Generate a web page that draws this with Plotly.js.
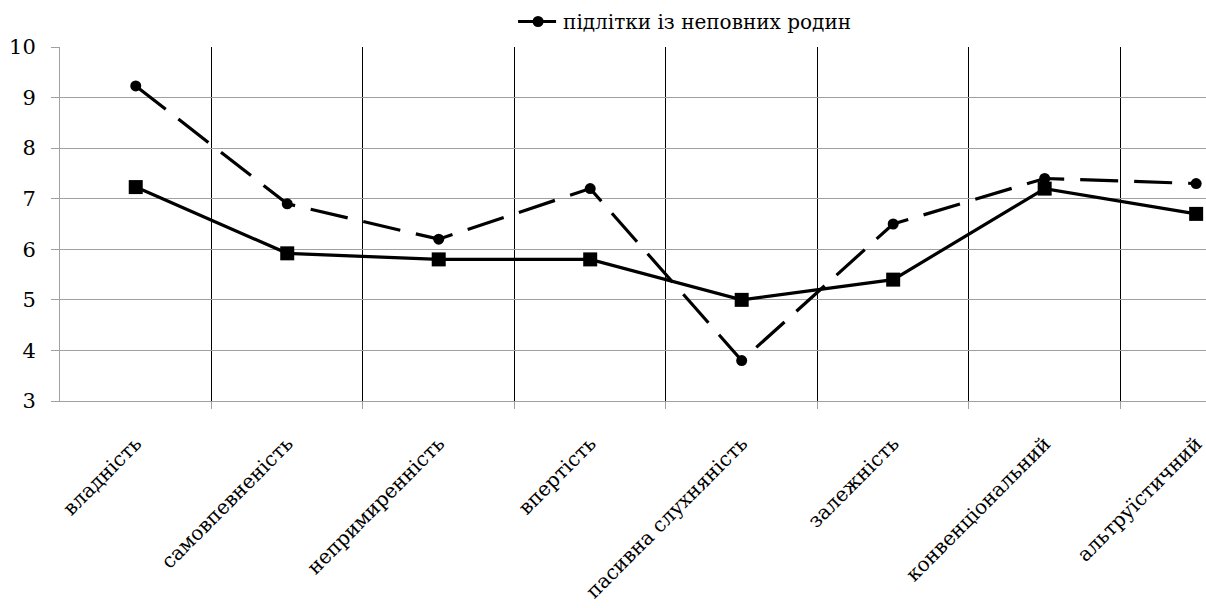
<!DOCTYPE html>
<html>
<head>
<meta charset="utf-8">
<script src="https://cdn.plot.ly/plotly-3.0.1.min.js"></script>
<style>html,body{margin:0;padding:0;background:#fff;}#chart{width:1206px;height:608px;}</style>
</head>
<body>
<div id="chart"></div>
<script>
const categories = ["владність", "самовпевненість", "непримиренність", "впертість", "пасивна слухняність", "залежність", "конвенціональний", "альтруїстичний"];
const seriesIncomplete = [9.23, 6.9, 6.2, 7.2, 3.8, 6.5, 7.4, 7.3];
const seriesOther = [7.23, 5.92, 5.8, 5.8, 5.0, 5.4, 7.2, 6.7];
const legendName = "підлітки із неповних родин";
const yTicks = [3, 4, 5, 6, 7, 8, 9, 10];

const xIdx = categories.map((_, i) => i);
const boundaries = categories.slice(1).map((_, i) => i + 0.5);
const font = "DejaVu Serif";

const traces = [
  {
    x: xIdx, y: seriesOther, type: "scatter", mode: "lines+markers",
    line: {color: "#000", width: 3.2}, marker: {symbol: "square", size: 14, color: "#000"},
    showlegend: false, hoverinfo: "skip"
  },
  {
    x: xIdx, y: seriesIncomplete, type: "scatter", mode: "lines+markers", name: legendName,
    line: {color: "#000", width: 3.2, dash: "38px,16px"}, marker: {symbol: "circle", size: 11, color: "#000"},
    showlegend: true
  }
];

const layout = {
  width: 1206, height: 608,
  margin: {l: 60, r: 0, t: 47, b: 207},
  paper_bgcolor: "#fff", plot_bgcolor: "#fff",
  font: {family: font, color: "#000", size: 16},
  showlegend: true,
  legend: {orientation: "h", x: 0.545, xanchor: "center", y: 1.072, yanchor: "middle",
           itemwidth: 40,
           font: {family: font, size: 20, color: "#000"}, bgcolor: "rgba(0,0,0,0)"},
  xaxis: {
    range: [-0.5, 7.065], tickmode: "array", tickvals: xIdx, ticktext: categories,
    tickangle: -45, ticks: "", showgrid: false, zeroline: false, automargin: false,
    ticklabeloverflow: "allow",
    showline: true, linecolor: "#a0a0a0", linewidth: 1,
    ticklabelstandoff: 22,
    tickfont: {family: font, size: 20, color: "#000"},
    minor: {tickmode: "array", tickvals: boundaries, showgrid: true, gridcolor: "#000", gridwidth: 1,
            ticks: "outside", ticklen: 7, tickcolor: "#a0a0a0", tickwidth: 1}
  },
  yaxis: {
    range: [3, 10], tickmode: "array", tickvals: yTicks, ticktext: yTicks.map(String),
    showgrid: true, gridcolor: "#a0a0a0", gridwidth: 1, zeroline: false, automargin: false,
    showline: true, linecolor: "#a0a0a0", linewidth: 1,
    ticks: "outside", ticklen: 8, tickcolor: "#a0a0a0",
    ticklabelstandoff: 11,
    tickfont: {family: font, size: 21, color: "#000"}
  }
};

Plotly.newPlot("chart", traces, layout, {displayModeBar: false, staticPlot: true});
</script>
</body>
</html>
